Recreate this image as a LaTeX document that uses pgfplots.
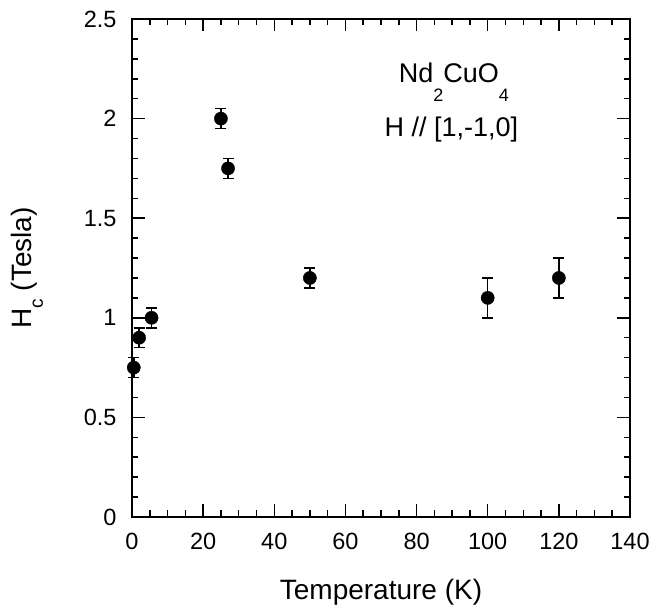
\documentclass[border=0pt]{standalone}
\usepackage{pgfplots}
\pgfplotsset{compat=1.18}
\usepackage{fontspec}
\setmainfont{Liberation Sans}
\begin{document}
\begin{tikzpicture}
\begin{axis}[
  scale only axis,
  width=498pt, height=498pt,
  xmin=0, xmax=140, ymin=0, ymax=2.5,
  xtick={0,20,...,140},
  ytick={0,0.5,...,2.5},
  minor x tick num=3,
  minor y tick num=4,
  tick align=inside,
  xtick pos=both, ytick pos=both,
  xticklabel pos=left, yticklabel pos=left,
  major tick length=12.5pt,
  minor tick length=6.5pt,
  every tick/.style={line width=1.5pt, black},
  axis line style={line width=2pt},
  /pgf/number format/assume math mode=true,
  /pgf/number format/fixed,
  ticklabel style={font=\fontsize{23.5}{27}\selectfont},
  yticklabel style={/pgf/number format/precision=1, xshift=-12pt},
  xticklabel style={yshift=-13pt},
  clip=false,
]
\addplot[only marks, mark=*, mark size=6.6pt, black,
  error bars/.cd, y dir=both, y explicit,
  error bar style={line width=1.5pt},
  error mark options={rotate=90, mark size=5.5pt, line width=1.5pt}]
coordinates {
  (0.5,0.75) +- (0,0.05)
  (2,0.9) +- (0,0.05)
  (5.5,1.0) +- (0,0.05)
  (25,2.0) +- (0,0.05)
  (27,1.75) +- (0,0.05)
  (50,1.2) +- (0,0.05)
  (100,1.1) +- (0,0.1)
  (120,1.2) +- (0,0.1)
};
\node[anchor=base, font=\fontsize{27}{30}\selectfont, inner sep=0pt] at (axis cs:90.5,2.179)
  {Nd\raisebox{-19pt}{\fontsize{18}{20}\selectfont 2}CuO\raisebox{-19pt}{\fontsize{18}{20}\selectfont 4}};
\node[anchor=base, font=\fontsize{27}{30}\selectfont, inner sep=0pt] at (axis cs:89.8,1.908)
  {H // [1,-1,0]};
\coordinate (bl) at (rel axis cs:0,0);
\coordinate (tr) at (rel axis cs:1,1);
\coordinate (ml) at (rel axis cs:0,0.5);
\coordinate (bm) at (rel axis cs:0.5,0);
\end{axis}
\node[rotate=90, anchor=base, inner sep=0pt, font=\fontsize{28}{32}\selectfont]
  at ([xshift=-100pt]ml) {H\raisebox{-11pt}{\fontsize{19}{21}\selectfont c} (Tesla)};
\node[anchor=base, inner sep=0pt, font=\fontsize{28}{32}\selectfont]
  at ([yshift=-83pt]bm) {Temperature (K)};
\pgfresetboundingbox
\path ([shift={(-132pt,-90pt)}]bl) rectangle ([shift={(21pt,19pt)}]tr);
\end{tikzpicture}
\end{document}
